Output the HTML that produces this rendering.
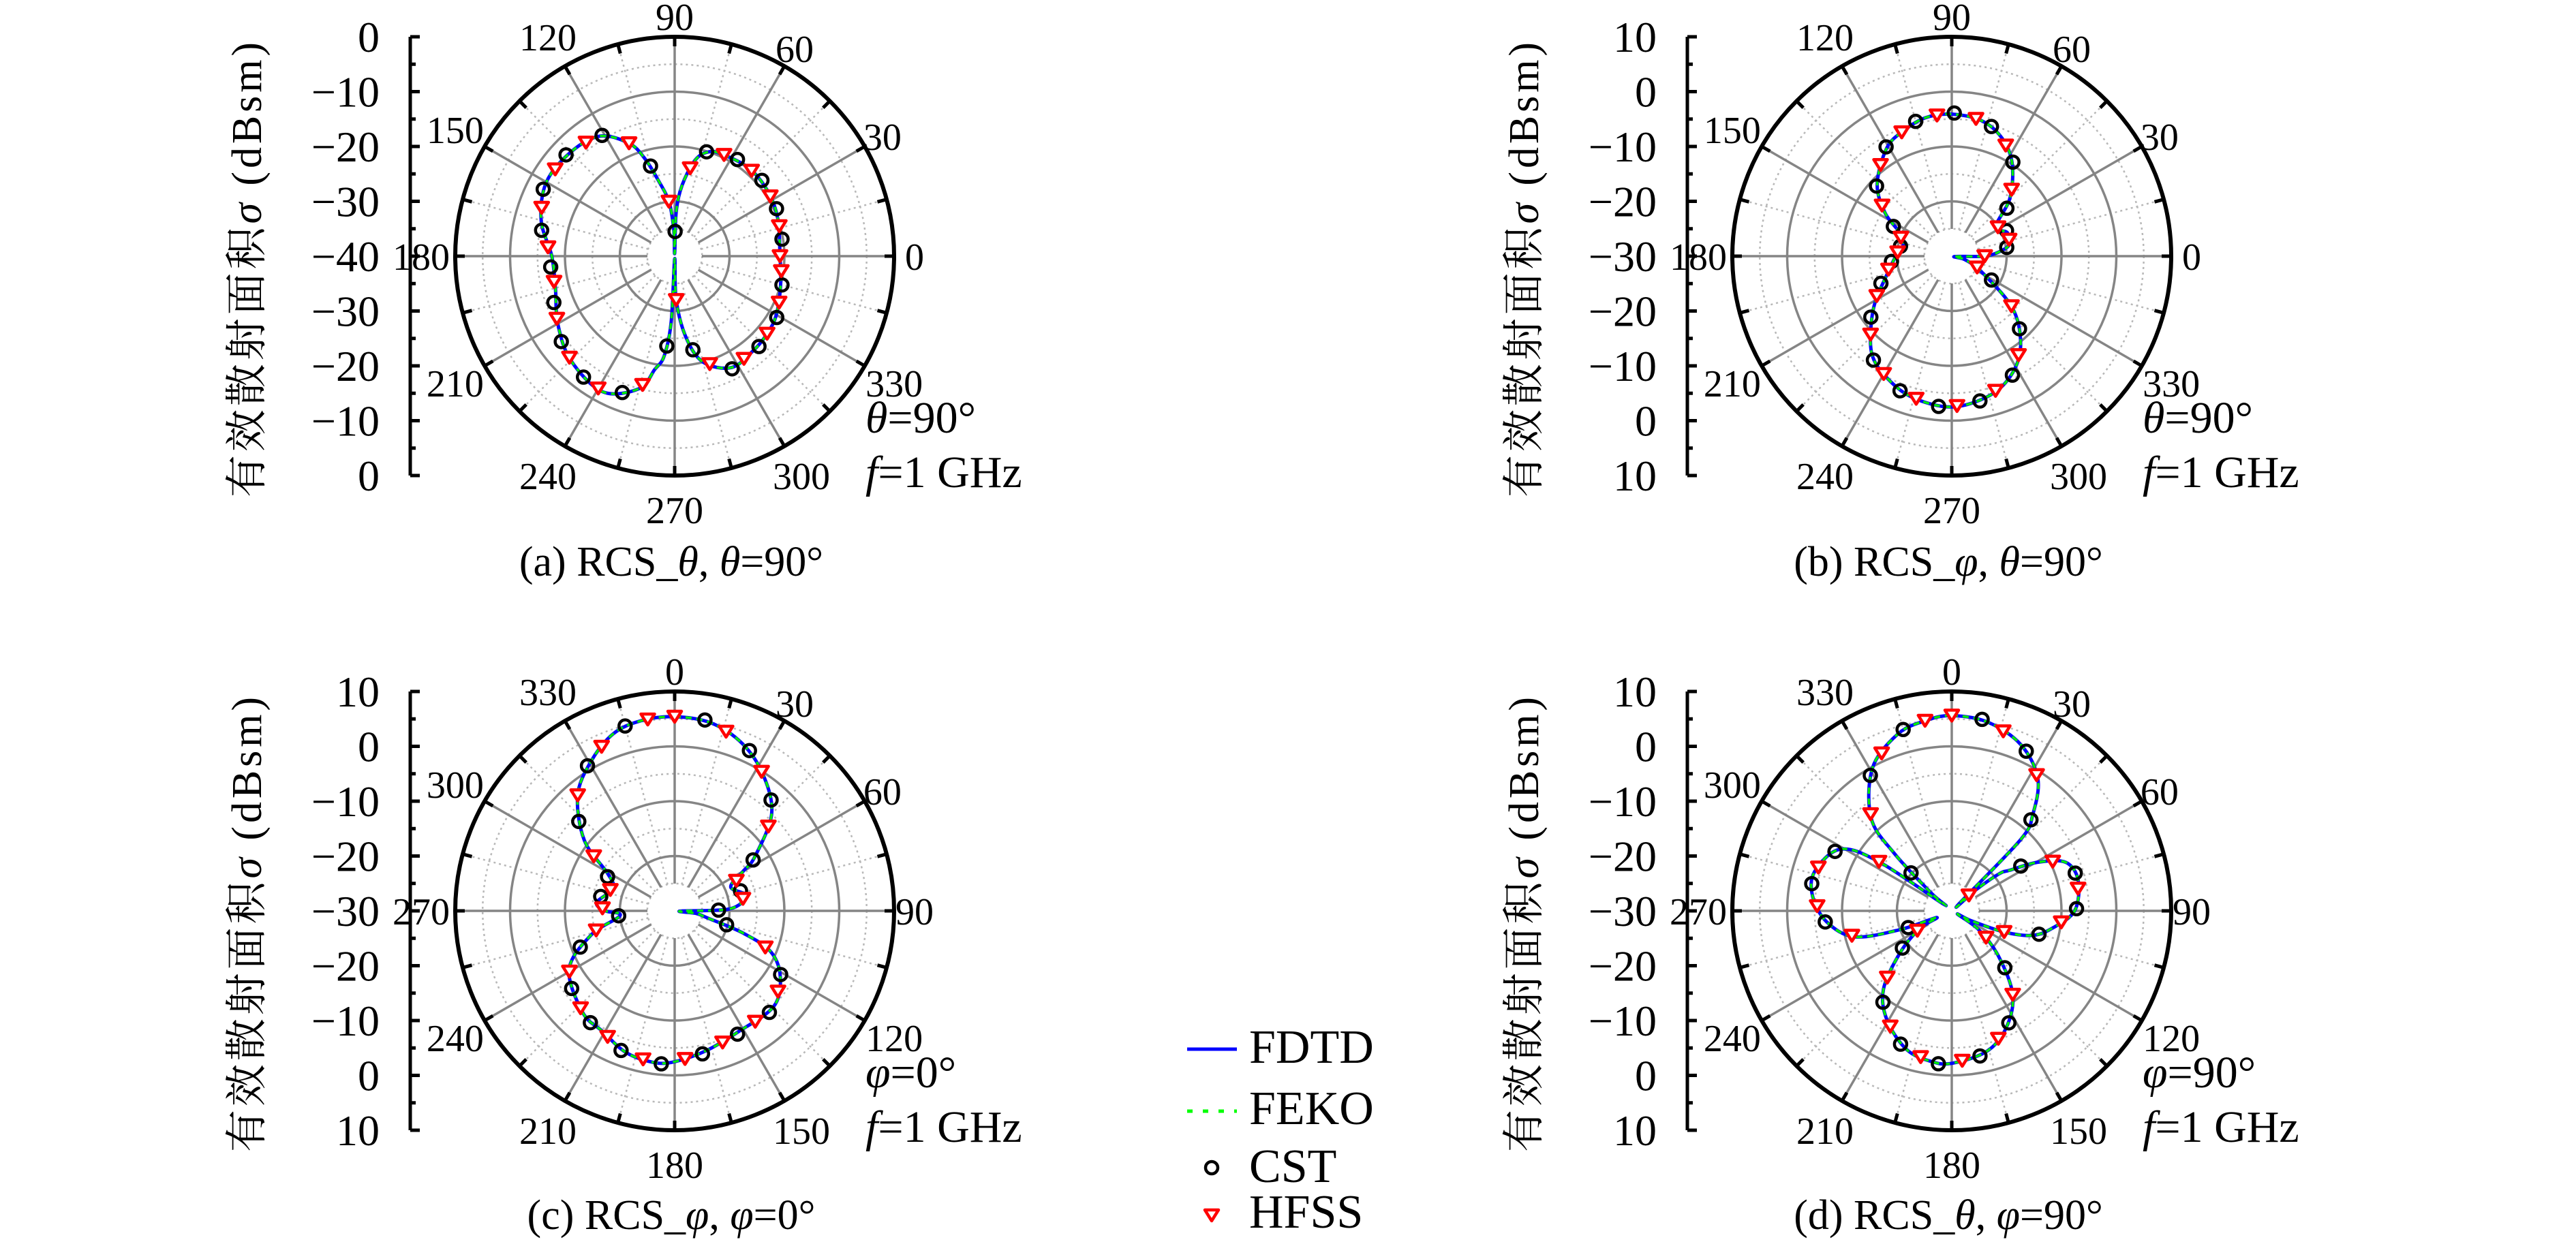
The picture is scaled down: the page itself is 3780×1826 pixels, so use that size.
<!DOCTYPE html>
<html><head><meta charset="utf-8">
<style>
html,body{margin:0;padding:0;background:#fff;}
svg{display:block;}
text{font-family:"Liberation Serif","DejaVu Serif","Noto Serif CJK SC",serif;fill:#000;}
.yt{font-size:64px;text-anchor:end;}
.an{font-size:56px;text-anchor:middle;}
.yl{font-size:62px;text-anchor:middle;}
.ann{font-size:66px;}
.cap{font-size:62px;text-anchor:middle;}
.lg{font-size:70px;}
</style></head>
<body>
<svg id="s" width="3780" height="1826" viewBox="0 0 3780 1826" xmlns="http://www.w3.org/2000/svg" font-family="Liberation Serif, DejaVu Serif, Noto Serif CJK SC, serif">
<g id="ca">
<text class="yt">0</text><text class="yt">−10</text><text class="yt">−20</text><text class="yt">−30</text><text class="yt">−40</text><text class="yt">−30</text><text class="yt">−20</text><text class="yt">−10</text><text class="yt">0</text>
<text class="an">0</text><text class="an">30</text><text class="an">60</text><text class="an">90</text><text class="an">120</text><text class="an">150</text><text class="an">180</text><text class="an">210</text><text class="an">240</text><text class="an">270</text><text class="an">300</text><text class="an">330</text>
<text class="yl">有效散射面积<tspan font-style="italic">σ</tspan> (dBsm)</text>
<text class="ann a1"><tspan font-style="italic">θ</tspan>=90°</text>
<text class="ann a2"><tspan font-style="italic">f</tspan>=1 GHz</text>
<text class="cap">(a) RCS_<tspan font-style="italic">θ</tspan>, <tspan font-style="italic">θ</tspan>=90°</text>
</g>
<g id="cb">
<text class="yt">10</text><text class="yt">0</text><text class="yt">−10</text><text class="yt">−20</text><text class="yt">−30</text><text class="yt">−20</text><text class="yt">−10</text><text class="yt">0</text><text class="yt">10</text>
<text class="an">0</text><text class="an">30</text><text class="an">60</text><text class="an">90</text><text class="an">120</text><text class="an">150</text><text class="an">180</text><text class="an">210</text><text class="an">240</text><text class="an">270</text><text class="an">300</text><text class="an">330</text>
<text class="yl">有效散射面积<tspan font-style="italic">σ</tspan> (dBsm)</text>
<text class="ann a1"><tspan font-style="italic">θ</tspan>=90°</text>
<text class="ann a2"><tspan font-style="italic">f</tspan>=1 GHz</text>
<text class="cap">(b) RCS_<tspan font-style="italic">φ</tspan>, <tspan font-style="italic">θ</tspan>=90°</text>
</g>
<g id="cc">
<text class="yt">10</text><text class="yt">0</text><text class="yt">−10</text><text class="yt">−20</text><text class="yt">−30</text><text class="yt">−20</text><text class="yt">−10</text><text class="yt">0</text><text class="yt">10</text>
<text class="an">0</text><text class="an">30</text><text class="an">60</text><text class="an">90</text><text class="an">120</text><text class="an">150</text><text class="an">180</text><text class="an">210</text><text class="an">240</text><text class="an">270</text><text class="an">300</text><text class="an">330</text>
<text class="yl">有效散射面积<tspan font-style="italic">σ</tspan> (dBsm)</text>
<text class="ann a1"><tspan font-style="italic">φ</tspan>=0°</text>
<text class="ann a2"><tspan font-style="italic">f</tspan>=1 GHz</text>
<text class="cap">(c) RCS_<tspan font-style="italic">φ</tspan>, <tspan font-style="italic">φ</tspan>=0°</text>
</g>
<g id="cd">
<text class="yt">10</text><text class="yt">0</text><text class="yt">−10</text><text class="yt">−20</text><text class="yt">−30</text><text class="yt">−20</text><text class="yt">−10</text><text class="yt">0</text><text class="yt">10</text>
<text class="an">0</text><text class="an">30</text><text class="an">60</text><text class="an">90</text><text class="an">120</text><text class="an">150</text><text class="an">180</text><text class="an">210</text><text class="an">240</text><text class="an">270</text><text class="an">300</text><text class="an">330</text>
<text class="yl">有效散射面积<tspan font-style="italic">σ</tspan> (dBsm)</text>
<text class="ann a1"><tspan font-style="italic">φ</tspan>=90°</text>
<text class="ann a2"><tspan font-style="italic">f</tspan>=1 GHz</text>
<text class="cap">(d) RCS_<tspan font-style="italic">θ</tspan>, <tspan font-style="italic">φ</tspan>=90°</text>
</g>
<g id="legend">
<line x1="1742" y1="1540" x2="1815" y2="1540" stroke="#0000ff" stroke-width="5"/>
<line x1="1742" y1="1631" x2="1815" y2="1631" stroke="#00ff00" stroke-width="5" stroke-dasharray="8,15"/>
<circle cx="1778" cy="1714" r="9" fill="none" stroke="#000" stroke-width="4.5"/>
<polygon points="1768,1776 1788,1776 1778,1792" fill="#fff" stroke="#ff0000" stroke-width="4.5" stroke-linejoin="round"/>
<text class="lg" x="1833" y="1560">FDTD</text>
<text class="lg" x="1833" y="1650">FEKO</text>
<text class="lg" x="1833" y="1735">CST</text>
<text class="lg" x="1833" y="1802">HFSS</text>
</g>
</svg>
<script>
(function(){
var NS="http://www.w3.org/2000/svg";
var R=322, RING=80.5;
function el(n,a,p){var e=document.createElementNS(NS,n);for(var k in a)e.setAttribute(k,a[k]);if(p)p.appendChild(e);return e;}
var charts=[
{id:"ca",cx:990,cy:376,compass:false,data:[[0,1.92],[20,2.0],[35,2.07],[50,2.1],[65,2.05],[72,2.0],[78,1.79],[84,1.3],[88,0.8],[90,0.05],[92,0.5],[96,1.0],[102,1.4],[107,1.86],[112,2.22],[122,2.58],[135,2.68],[150,2.7],[165,2.52],[180,2.24],[195,2.25],[210,2.46],[225,2.68],[242,2.8],[255,2.5],[260,2.1],[264,1.83],[267,1.2],[270,0.05],[272,0.8],[278,1.5],[285,2.0],[297,2.28],[310,2.24],[320,2.2],[330,2.14],[345,2.0]]},
{id:"cb",cx:2864,cy:376,compass:false,data:[[0,0.6],[6,0.9],[12,1.08],[23,1.1],[34,0.97],[45,1.5],[57,2.02],[67,2.34],[77.6,2.53],[90,2.59],[100.7,2.57],[111,2.45],[121,2.3],[136,1.89],[147,1.45],[156,1.03],[167,0.91],[183,1.05],[197,1.25],[211,1.63],[221,1.95],[231,2.31],[241,2.5],[254,2.67],[270,2.75],[285.5,2.63],[297.5,2.4],[308,2.04],[319.4,1.46],[332,0.62],[345,0.25],[352,0.05]]},
{id:"cc",cx:990,cy:1337,compass:true,data:[[0,3.54],[11,3.49],[22,3.29],[33,2.96],[45,2.5],[56,1.76],[60,1.44],[67,1.11],[78,1.33],[88,1.0],[92,0.1],[97,0.4],[102,0.6],[108,1.31],[113,1.9],[122,2.27],[134,2.51],[152,2.49],[167,2.61],[180,2.75],[188,2.79],[199,2.73],[211,2.56],[222,2.5],[241,2.2],[254,1.58],[265,1.0],[270,1.26],[276,1.43],[290,1.2],[299,1.39],[308,2.09],[320,2.75],[331,3.13],[341,3.42],[350,3.52]]},
{id:"cd",cx:2864,cy:1337,compass:true,data:[[0,3.56],[11,3.5],[22.6,3.28],[33,2.88],[40,2.3],[44,1.8],[46.5,0.15],[49,0.6],[52,1.1],[55,1.29],[60.5,1.8],[67,2.26],[76.6,2.37],[90,2.24],[100,1.85],[107,1.53],[112,1.03],[117,0.4],[120,0.12],[125,0.6],[134,1.18],[144,1.89],[155,2.35],[166,2.64],[180,2.78],[188,2.77],[198,2.66],[210.5,2.32],[221,1.9],[231,1.21],[241,0.67],[246,0.3],[250,1.0],[255,1.83],[265,2.29],[276,2.55],[286,2.6],[299,2.32],[304,1.6],[309,0.2],[311,0.5],[315,1.48],[319,2.24],[331,2.98],[343,3.37],[352,3.5]]}
];
function pt(c,a,r){var t=a*Math.PI/180;if(c.compass)return[c.cx+r*Math.sin(t),c.cy-r*Math.cos(t)];return[c.cx+r*Math.cos(t),c.cy-r*Math.sin(t)];}
function interp(d,a){a=((a%360)+360)%360;for(var i=0;i<d.length;i++){var p=d[i],q=d[(i+1)%d.length];var a0=p[0],a1=q[0];if(a1<=a0)a1+=360;var aa=a;if(aa<a0)aa+=360;if(aa>=a0&&aa<=a1){var f=(aa-a0)/(a1-a0);return p[1]+(q[1]-p[1])*f;}}return d[0][1];}
charts.forEach(function(c){
var g=document.getElementById(c.id);
var gr=el("g",{});g.insertBefore(gr,g.firstChild);
var cx=c.cx,cy=c.cy;
[0.5,1.5,2.5,3.5].forEach(function(k){el("circle",{cx:cx,cy:cy,r:k*RING,fill:"none",stroke:"#b8b8b8","stroke-width":2.5,"stroke-dasharray":"3,5"},gr);});
for(var a=15;a<360;a+=30){var p=pt(c,a,40),q=pt(c,a,R);el("line",{x1:p[0],y1:p[1],x2:q[0],y2:q[1],stroke:"#b8b8b8","stroke-width":2.5,"stroke-dasharray":"3,5"},gr);}
[1,2,3].forEach(function(k){el("circle",{cx:cx,cy:cy,r:k*RING,fill:"none",stroke:"#858585","stroke-width":3.5},gr);});
for(var a=0;a<360;a+=30){var p=pt(c,a,40),q=pt(c,a,R);el("line",{x1:p[0],y1:p[1],x2:q[0],y2:q[1],stroke:"#858585","stroke-width":3.5},gr);}
el("circle",{cx:cx,cy:cy,r:R,fill:"none",stroke:"#000","stroke-width":6},gr);
for(var a=0;a<360;a+=15){var p=pt(c,a,R-14),q=pt(c,a,R);el("line",{x1:p[0],y1:p[1],x2:q[0],y2:q[1],stroke:"#000","stroke-width":5},gr);}
var ax=cx-388;
el("line",{x1:ax,y1:cy-R,x2:ax,y2:cy+R,stroke:"#000","stroke-width":5},gr);
for(var i=0;i<=16;i++){var y=cy-R+i*R/8;el("line",{x1:ax,y1:y,x2:ax+(i%2==0?14:8),y2:y,stroke:"#000","stroke-width":5},gr);}
var P=c.data.map(function(d){return pt(c,d[0],d[1]*RING);});
var n=P.length,s="M"+P[0][0].toFixed(1)+","+P[0][1].toFixed(1);
for(var i=0;i<n;i++){var p0=P[(i-1+n)%n],p1=P[i],p2=P[(i+1)%n],p3=P[(i+2)%n];
var c1=[p1[0]+(p2[0]-p0[0])/6,p1[1]+(p2[1]-p0[1])/6],c2=[p2[0]-(p3[0]-p1[0])/6,p2[1]-(p3[1]-p1[1])/6];
s+="C"+c1[0].toFixed(1)+","+c1[1].toFixed(1)+" "+c2[0].toFixed(1)+","+c2[1].toFixed(1)+" "+p2[0].toFixed(1)+","+p2[1].toFixed(1);}
el("path",{d:s,fill:"none",stroke:"#0000ff","stroke-width":5,"stroke-linejoin":"round"},gr);
el("path",{d:s,fill:"none",stroke:"#00ee00","stroke-width":3.5,"stroke-dasharray":"9,7"},gr);
for(var a=9;a<360;a+=16){var r=interp(c.data,a);if(r<0.4)continue;var p=pt(c,a,r*RING+2);el("circle",{cx:p[0],cy:p[1],r:9,fill:"none",stroke:"#000","stroke-width":4.5},gr);}
for(var a=0;a<360;a+=16){var r=interp(c.data,a);if(r<0.4)continue;var p=pt(c,a,r*RING);var x=p[0],y=p[1];
el("polygon",{points:(x-10)+","+(y-8)+" "+(x+10)+","+(y-8)+" "+x+","+(y+8),fill:"#fff",stroke:"#ff0000","stroke-width":4.5,"stroke-linejoin":"round"},gr);}
var yts=g.querySelectorAll(".yt");
for(var i=0;i<yts.length;i++){yts[i].setAttribute("x",ax-45);yts[i].setAttribute("y",cy-R+i*RING+22);}
var ans=g.querySelectorAll(".an");
for(var i=0;i<ans.length;i++){var t=ans[i];var rr=t.textContent.length>=3?372:352;var p=pt(c,i*30,rr);t.setAttribute("x",p[0]);t.setAttribute("y",p[1]+20);}
var yl=g.querySelector(".yl");yl.setAttribute("x",0);yl.setAttribute("y",0);
yl.setAttribute("transform","translate("+(cx-607)+","+(cy+20)+") rotate(-90)");
yl.setAttribute("textLength","668");
var a1=g.querySelector(".a1"),a2=g.querySelector(".a2");
a1.setAttribute("x",cx+280);a1.setAttribute("y",cy+259);
a2.setAttribute("x",cx+280);a2.setAttribute("y",cy+339);
var cap=g.querySelector(".cap");cap.setAttribute("x",cx-5);cap.setAttribute("y",cy+(cy<800?469:467));
});
})();
</script>
</body></html>
